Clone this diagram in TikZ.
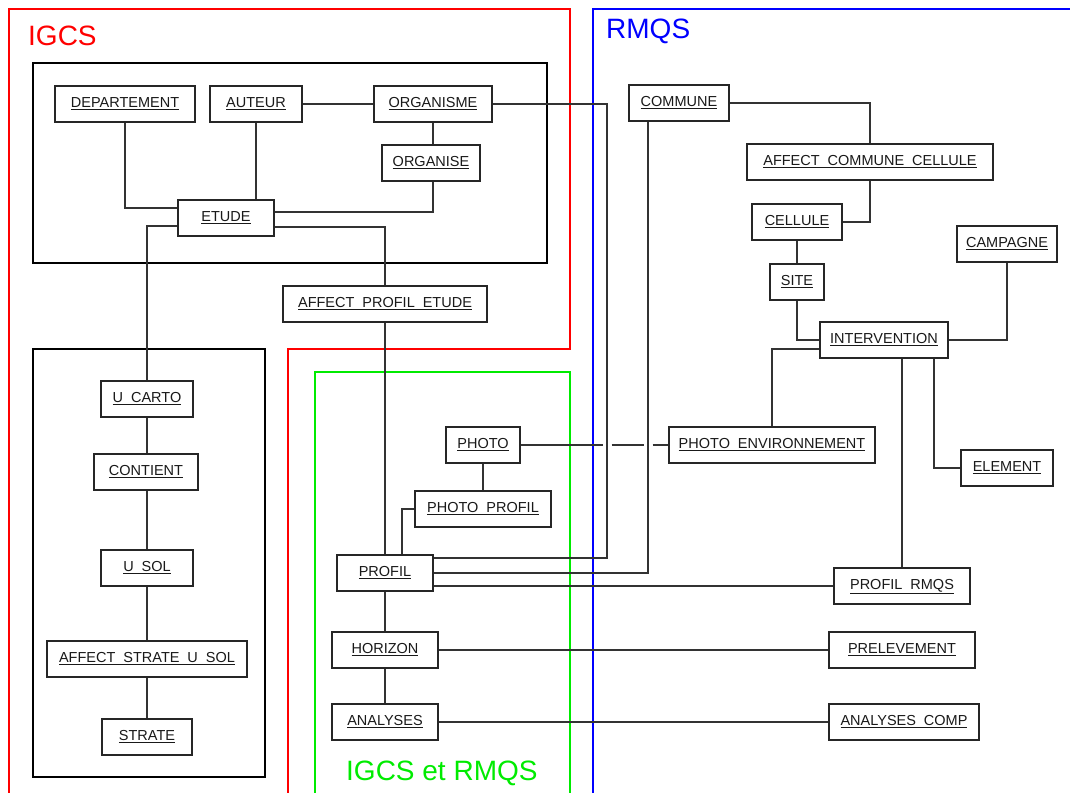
\documentclass[tikz,border=0pt]{standalone}
\usepackage{fontspec}
\setmainfont{Liberation Sans}
\usetikzlibrary{calc}
\definecolor{igreen}{RGB}{0,235,0}
\newcommand{\ugap}{\hspace{0.55em}}
\newcommand{\ulb}[1]{\underline{#1}}
\begin{document}
\begin{tikzpicture}[x=1pt,y=-1pt,
  box/.style={draw=black!85, line width=1.4pt, fill=white, minimum height=36pt, inner sep=0pt,
    text height=10.4pt, text depth=3.4pt,
    font=\fontsize{14.5}{16}\selectfont, text=black!90},
  link/.style={draw=black!80, line width=1.3pt},
  frame/.style={line width=2.8pt},
  title/.style={anchor=west, inner sep=0pt, font=\fontsize{28}{30}\selectfont}]
\useasboundingbox (0,0) rectangle (1070,792);
\clip (0,0) rectangle (1070,792);
% frames
\draw[frame, red] (9,800) -- (9,9) -- (570,9) -- (570,349) -- (288,349) -- (288,800);
\draw[frame, blue] (593,800) -- (593,9) -- (1080,9);
\draw[frame, igreen] (315,800) -- (315,372) -- (570,372) -- (570,800);
\draw[frame, black] (33,63) rectangle (547,263);
\draw[frame, black] (33,349) rectangle (265,777);
% titles
\node[title, text=red] (tigcs) at (28,36) {IGCS};
\node[title, text=blue] (trmqs) at (606,31.5) {RMQS};
\node[title, text=igreen] (tboth) at (346,773) {IGCS et RMQS};
% nodes
\node[box, minimum width=140] (dep) at (125,104) {\ulb{DEPARTEMENT}};
\node[box, minimum width=92] (aut) at (256,104) {\ulb{AUTEUR}};
\node[box, minimum width=118] (org) at (433,104) {\ulb{ORGANISME}};
\node[box, minimum width=98] (orgse) at (431,163) {\ulb{ORGANISE}};
\node[box, minimum width=96] (etude) at (226,218) {\ulb{ETUDE}};
\node[box, minimum width=204] (ape) at (385,304) {\ulb{AFFECT\ugap PROFIL\ugap ETUDE}};
\node[box, minimum width=100] (commune) at (679,103) {\ulb{COMMUNE}};
\node[box, minimum width=246] (acc) at (870,162) {\ulb{AFFECT\ugap COMMUNE\ugap CELLULE}};
\node[box, minimum width=90] (cell) at (797,222) {\ulb{CELLULE}};
\node[box, minimum width=54] (site) at (797,282) {\ulb{SITE}};
\node[box, minimum width=100] (camp) at (1007,244) {\ulb{CAMPAGNE}};
\node[box, minimum width=128] (interv) at (884,340) {\ulb{INTERVENTION}};
\node[box, minimum width=206] (penv) at (772,445) {\ulb{PHOTO\ugap ENVIRONNEMENT}};
\node[box, minimum width=92] (elem) at (1007,468) {\ulb{ELEMENT}};
\node[box, minimum width=136] (prmqs) at (902,586) {\ulb{PROFIL\ugap RMQS}};
\node[box, minimum width=146] (prelev) at (902,650) {\ulb{PRELEVEMENT}};
\node[box, minimum width=150] (acomp) at (904,722) {\ulb{ANALYSES\ugap COMP}};
\node[box, minimum width=74] (photo) at (483,445) {\ulb{PHOTO}};
\node[box, minimum width=136] (pp) at (483,509) {\ulb{PHOTO\ugap PROFIL}};
\node[box, minimum width=96] (profil) at (385,573) {\ulb{PROFIL}};
\node[box, minimum width=106] (horizon) at (385,650) {\ulb{HORIZON}};
\node[box, minimum width=106] (analyses) at (385,722) {\ulb{ANALYSES}};
\node[box, minimum width=92] (ucarto) at (147,399) {\ulb{U\ugap CARTO}};
\node[box, minimum width=104] (contient) at (146,472) {\ulb{CONTIENT}};
\node[box, minimum width=92] (usol) at (147,568) {\ulb{U\ugap SOL}};
\node[box, minimum width=200] (asus) at (147,659) {\ulb{AFFECT\ugap STRATE\ugap U\ugap SOL}};
\node[box, minimum width=90] (strate) at (147,737) {\ulb{STRATE}};
% bend points
\coordinate (k1) at (607,558);
\coordinate (k2) at (648,573);
\coordinate (k3) at (402,509);
\coordinate (k4) at (934,468);
% connectors: IGCS
\draw[link] (aut.east) -- (org.west);
\draw[link] (org.south) -- (org.south |- orgse.north);
\draw[link] ($(etude.west)+(0,-10)$) -| (dep.south);
\draw[link] (aut.south) -- (aut.south |- etude.north);
\draw[link] ($(etude.east)+(0,-6)$) -| (orgse.south -| org.south);
\draw[link] ($(etude.east)+(0,9)$) -| (ape.north);
\draw[link] ($(etude.west)+(0,8)$) -| (ucarto.north);
\draw[link] (ucarto.south) -- (contient.north -| ucarto.south);
\draw[link] (contient.south -| ucarto.south) -- (usol.north);
\draw[link] (usol.south) -- (asus.north);
\draw[link] (asus.south) -- (strate.north);
% connectors: shared
\draw[link] (ape.south) -- (profil.north);
\draw[link] (profil.south) -- (horizon.north);
\draw[link] (horizon.south) -- (analyses.north);
\draw[link] (photo.south) -- (pp.north);
\draw[link] (pp.west) -- (k3) -- (k3 |- profil.north);
\draw[link] (org.east) -| (k1) -- (k1 -| profil.east);
\draw[link] (commune.south -| k2) -- (k2) -- (profil.east);
\draw[link] (prmqs.west) -- (prmqs.west -| profil.east);
\draw[link] (horizon.east) -- (prelev.west);
\draw[link] (analyses.east) -- (acomp.west);
\draw[link] (photo.east) -- ($(k1 |- photo.east)+(-4.5,0)$);
\draw[link] ($(k1 |- photo.east)+(4.5,0)$) -- ($(k2 |- photo.east)+(-4.5,0)$);
\draw[link] ($(k2 |- photo.east)+(4.5,0)$) -- (penv.west);
% connectors: RMQS
\draw[link] (commune.east) -| (acc.north);
\draw[link] (cell.east) -| (acc.south);
\draw[link] (cell.south) -- (site.north);
\draw[link] (site.south) |- (interv.west);
\draw[link] (camp.south) |- (interv.east);
\draw[link] ($(interv.west)+(0,9)$) -| (penv.north);
\draw[link] (interv.south -| prmqs.north) -- (prmqs.north);
\draw[link] (interv.south -| k4) |- (elem.west);
\end{tikzpicture}
\end{document}
